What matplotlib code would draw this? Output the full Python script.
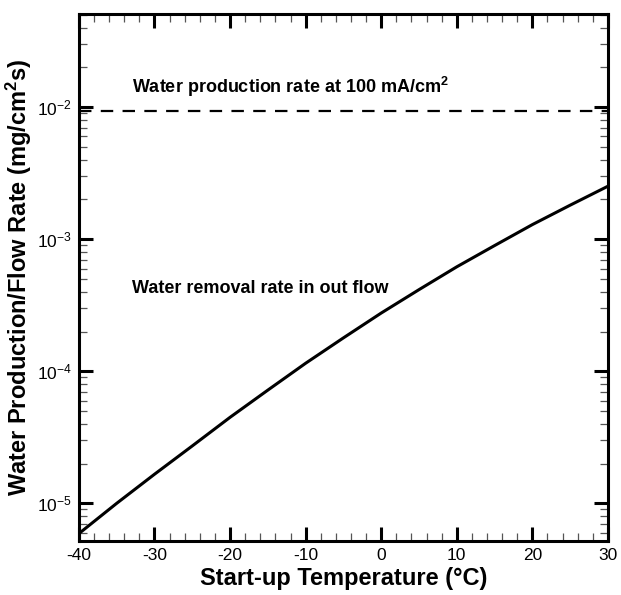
import matplotlib as mpl
mpl.use('Agg')
import matplotlib.pyplot as plt
from matplotlib.ticker import LogLocator, MultipleLocator, NullFormatter
import numpy as np

plt.rcParams['font.family'] = ['Liberation Sans', 'DejaVu Sans']
plt.rcParams['mathtext.default'] = 'regular'
plt.rcParams['axes.unicode_minus'] = False

# start-up temperature (C) and water removal rate in out flow (mg/cm2 s)
temperature = [-40, -35, -30, -25, -20, -15, -10, -5, 0, 5, 10, 15, 20, 25, 30]
removal_rate = [5.9e-6, 1.0e-5, 1.66e-5, 2.72e-5, 4.48e-5, 7.2e-5, 1.15e-4, 1.79e-4,
                2.76e-4, 4.15e-4, 6.18e-4, 8.95e-4, 1.29e-3, 1.81e-3, 2.52e-3]
production_rate = 9.4e-3  # at 100 mA/cm2

fig = plt.figure(figsize=(6.21, 5.95), dpi=100)
ax = fig.add_axes([0.127, 0.091, 0.852, 0.886])

ax.plot(temperature, removal_rate, color='black', lw=2.2, solid_capstyle='butt')
ax.axhline(production_rate, color='black', lw=1.6, dashes=(5.6, 4.2))

ax.set_yscale('log')
ax.set_xlim(-40, 30)
ax.set_ylim(5.2e-6, 5.1e-2)

ax.xaxis.set_major_locator(MultipleLocator(10))
ax.xaxis.set_minor_locator(MultipleLocator(2))
ax.yaxis.set_major_locator(LogLocator(base=10, numticks=10))
ax.yaxis.set_minor_locator(LogLocator(base=10, subs=np.arange(2, 10), numticks=20))
ax.yaxis.set_minor_formatter(NullFormatter())

for s in ax.spines.values():
    s.set_linewidth(2.2)
ax.tick_params(which='both', direction='in', top=True, right=True, labelsize=12.5)
ax.tick_params(which='major', length=10, width=2.2, pad=5)
ax.tick_params(which='minor', length=6, width=0.9, color='#555555')

ax.text(-33, 1.27e-2, 'Water production rate at 100 mA/cm$^2$', fontsize=13,
        fontweight='bold', va='baseline')
ax.text(-33, 4.2e-4, 'Water removal rate in out flow', fontsize=13,
        fontweight='bold', va='center')

ax.set_xlabel('Start-up Temperature (\u00b0C)', fontsize=17, fontweight='bold', labelpad=3)
ax.set_ylabel('Water Production/Flow Rate (mg/cm$^2$s)', fontsize=17,
              fontweight='bold', labelpad=2)

fig.savefig('out.png', dpi=100)
